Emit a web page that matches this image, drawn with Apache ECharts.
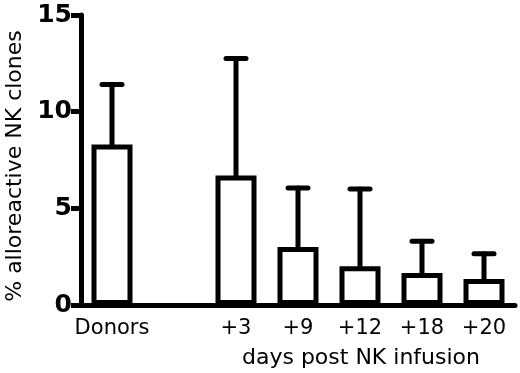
<!DOCTYPE html>
<html>
<head>
<meta charset="utf-8">
<script src="https://cdn.jsdelivr.net/npm/echarts@6/dist/echarts.min.js"></script>
<style>
    html, body { margin: 0; padding: 0; background: #fff; }
    #container { width: 520px; height: 373px; }
</style>
</head>
<body>
<div id="container"></div>
<script>
    // 分类（第二个位置留空）
    let categories = ['Donors', '', '+3', '+9', '+12', '+18', '+20'];
    // 均值
    let means = [8.3, '-', 6.7, 3.0, 2.0, 1.65, 1.35];
    // 误差上限 (均值 + SD)
    let upperValues = [11.4, '-', 12.75, 6.05, 6.0, 3.3, 2.65];
    let yTicks = [0, 5, 10, 15];

    let font = 'DejaVu Sans';

    // 误差线数据
    let errData = [];
    categories.forEach(function (c, i) {
        if (means[i] !== '-') {
            errData.push([i, means[i], upperValues[i]]);
        }
    });

    function renderError(params, api) {
        let x = api.value(0);
        let p1 = api.coord([x, api.value(1)]);
        let p2 = api.coord([x, api.value(2)]);
        let half = 10;
        let style = {stroke: '#000', lineWidth: 5, lineCap: 'round'};
        return {
            type: 'group',
            children: [{
                type: 'line',
                shape: {x1: p1[0], y1: p1[1], x2: p2[0], y2: p2[1]},
                style: style
            }, {
                type: 'line',
                shape: {x1: p2[0] - half, y1: p2[1], x2: p2[0] + half, y2: p2[1]},
                style: style
            }]
        };
    }

    let myChart = echarts.init(document.getElementById('container'));
    let option = {
        animation: false,
        grid: {left: 81, right: 5, top: 15, bottom: 68, containLabel: false, outerBoundsMode: 'none'},
        xAxis: {
            type: 'category',
            data: categories,
            axisLine: {lineStyle: {color: '#000', width: 5}},
            axisTick: {show: false},
            axisLabel: {color: '#000', fontFamily: font, fontSize: 21, margin: 13, interval: 0}
        },
        yAxis: {
            type: 'value',
            min: 0,
            max: 15,
            interval: 5,
            name: '% alloreactive NK clones',
            nameLocation: 'middle',
            nameGap: 54,
            nameTextStyle: {color: '#000', fontFamily: font, fontSize: 22, padding: [0, 12, 0, 0]},
            axisLine: {show: true, lineStyle: {color: '#000', width: 5}},
            axisTick: {show: true, length: 10, lineStyle: {color: '#000', width: 5}},
            splitLine: {show: false},
            axisLabel: {
                color: '#000', fontFamily: font, fontSize: 25, fontWeight: 'bold', margin: 9,
                formatter: function (v) { return yTicks.indexOf(v) >= 0 ? String(v) : ''; }
            }
        },
        graphic: [{
            type: 'text',
            x: 361,
            y: 358,
            style: {
                text: 'days post NK infusion',
                fill: '#000',
                font: '22px "DejaVu Sans"',
                textAlign: 'center',
                textVerticalAlign: 'middle'
            }
        }],
        series: [{
            type: 'bar',
            data: means,
            barWidth: 41,
            itemStyle: {color: '#fff', borderColor: '#000', borderWidth: 5}
        }, {
            type: 'custom',
            renderItem: renderError,
            data: errData,
            z: 1
        }]
    };
    myChart.setOption(option);
</script>
</body>
</html>
